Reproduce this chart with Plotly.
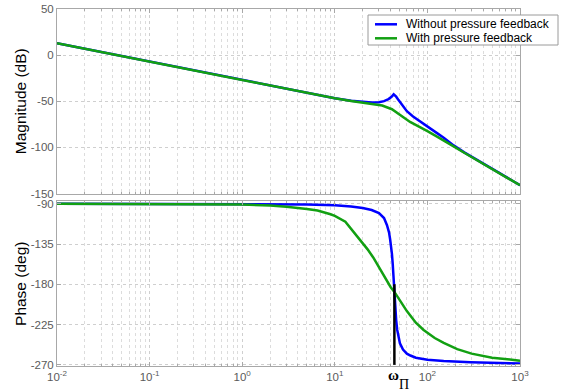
import math
import plotly.graph_objects as go

# ---------------- data ----------------
freq_mag_blue = [0.01, 0.1, 1, 5, 10, 15, 20, 25, 30, 34, 38, 41, 43.2, 46, 49, 53, 60, 70, 84,
                 100, 127, 150, 192, 250, 350, 500, 700, 1000]
mag_blue = [13, -7, -27, -40.9, -46.6, -49.4, -50.8, -51.3, -51.0, -49.8, -47.6, -45.2, -42.5,
            -45.0, -49.0, -54.0, -60.8, -66.5, -72.2, -78.0, -84.5, -89.5, -97.8, -105.3,
            -114.0, -123.1, -131.9, -140.9]

freq_mag_green = [0.01, 0.1, 1, 5, 10, 15, 20, 25, 32.5, 41.4, 48, 55.5, 65, 84, 100, 127, 150,
                  192, 250, 350, 500, 700, 1000]
mag_green = [13, -7, -27, -41.0, -46.8, -49.6, -51.4, -52.8, -54.6, -58.6, -62.8, -67.6, -72.4,
             -78.0, -82.3, -88.2, -92.2, -98.8, -105.8, -114.4, -123.4, -132.1, -141.0]

freq_phase_blue = [0.01, 1, 5, 10, 15, 20, 25, 30, 34, 36.6, 38.5, 39.6, 40.6, 41.4, 42.2, 43,
                   43.8, 44.8, 46, 47.2, 48.5, 50.5, 54.5, 60, 65.5, 75, 100, 150, 292, 500, 1000]
phase_blue = [-90, -90.1, -90.8, -91.8, -93, -94.8, -97, -100.5, -106, -114, -122, -130, -138,
              -146, -157, -172, -188, -205, -220, -231, -239, -246, -253, -257.5, -259.6, -262,
              -264.3, -265.8, -267, -267.8, -268.5]

freq_phase_green = [0.01, 1, 2, 3, 5, 6.5, 9, 10, 13, 16.2, 19, 22.6, 26, 31.5, 36, 40, 44, 50,
                    60, 75, 91, 120, 150, 210, 300, 500, 700, 1000]
phase_green = [-90, -90.8, -92, -93.3, -95.8, -97.6, -101.8, -103.5, -110, -122, -131, -141, -150,
               -165, -175, -183, -188.5, -197, -210, -223, -231, -240, -245.5, -252.5, -257.5,
               -262, -264, -265.3]

omega_pi = 44
marker_phase = [-270, -180]

series_names = ["Without pressure feedback", "With pressure feedback"]

x_tickvals = [0.01, 0.1, 1, 10, 100, 1000]
x_ticktext = ["10<sup>-2</sup>", "10<sup>-1</sup>", "10<sup>0</sup>", "10<sup>1</sup>",
              "10<sup>2</sup>", "10<sup>3</sup>"]
mag_ticks = [-150, -100, -50, 0, 50]
phase_ticks = [-270, -225, -180, -135, -90]

# ---------------- figure ----------------
BLUE = "#0000ff"
GREEN = "#12a012"
AXC = "#a8a8a8"
GRIDC = "#cfcfcf"
TICKC = "#5a5a5a"
FONT = "Arial, Liberation Sans, sans-serif"
SERIF = "Liberation Serif, Times New Roman, serif"

fig = go.Figure()
fig.add_trace(go.Scatter(x=freq_mag_blue, y=mag_blue, mode="lines", xaxis="x", yaxis="y",
                         line=dict(color=BLUE, width=2.5), name=series_names[0]))
fig.add_trace(go.Scatter(x=freq_mag_green, y=mag_green, mode="lines", xaxis="x", yaxis="y",
                         line=dict(color=GREEN, width=2.5), name=series_names[1]))
fig.add_trace(go.Scatter(x=freq_phase_blue, y=phase_blue, mode="lines", xaxis="x2", yaxis="y2",
                         line=dict(color=BLUE, width=2.5), name=series_names[0]))
fig.add_trace(go.Scatter(x=freq_phase_green, y=phase_green, mode="lines", xaxis="x2", yaxis="y2",
                         line=dict(color=GREEN, width=2.5), name=series_names[1]))
fig.add_trace(go.Scatter(x=[omega_pi, omega_pi], y=marker_phase, mode="lines", xaxis="x2",
                         yaxis="y2", line=dict(color="black", width=2.5), name="omega_pi"))

minor_vals = [m * 10 ** e for e in range(-2, 3) for m in range(2, 10)]

def xaxis_common(show_labels):
    return dict(type="log", range=[-2, 3], showline=True, linecolor=AXC, linewidth=1,
                mirror="allticks", ticks="inside", ticklen=4, tickcolor=AXC,
                showgrid=True, gridcolor=GRIDC, griddash="dot", gridwidth=1, zeroline=False,
                tickmode="array", tickvals=x_tickvals, ticktext=x_ticktext,
                showticklabels=show_labels,
                tickfont=dict(family=FONT, size=11.5, color=TICKC),
                minor=dict(tickmode="array", tickvals=minor_vals, ticks="inside", ticklen=2,
                           tickcolor=AXC, showgrid=True, gridcolor="#dcdcdc",
                           griddash="dot", gridwidth=1))

def yaxis_common(rng, ticks, title, dom):
    return dict(range=rng, domain=dom, showline=True, linecolor=AXC, linewidth=1,
                mirror="allticks", ticks="inside", ticklen=4, tickcolor=AXC,
                showgrid=True, gridcolor=GRIDC, griddash="dot", gridwidth=1, zeroline=False,
                tickmode="array", tickvals=ticks, ticktext=[str(t) for t in ticks],
                tickfont=dict(family=FONT, size=11.5, color=TICKC),
                title=dict(text=title, font=dict(family=FONT, size=15.5, color="black"),
                           standoff=0))

# ---- legend drawn as a box with line samples and text (pixel layout of the reference) ----
PX_L, PX_W, PX_B, PX_H = 57, 463, 366, 357
def px(xp):
    return (xp - PX_L) / PX_W
def py(yp):
    return (PX_B - yp) / PX_H

shapes = [dict(type="rect", xref="paper", yref="paper", x0=px(368), x1=px(558), y0=py(45),
               y1=py(15), fillcolor="white", line=dict(color="#9a9a9a", width=1), layer="above")]
annotations = []
for i, (name, col) in enumerate(zip(series_names, [BLUE, GREEN])):
    yy = py(24.3 + 14 * i)
    shapes.append(dict(type="line", xref="paper", yref="paper", x0=px(375), x1=px(397),
                       y0=yy, y1=yy, line=dict(color=col, width=2.5), layer="above"))
    annotations.append(dict(text=name, xref="paper", yref="paper", x=px(404), y=yy,
                            xanchor="left", yanchor="middle", showarrow=False,
                            font=dict(family=FONT, size=12, color="black")))

annotations.append(dict(text="<b>ω</b>", xref="x2", yref="paper",
                        x=math.log10(omega_pi) - 0.009, y=py(375), showarrow=False,
                        xanchor="center", yanchor="middle",
                        font=dict(family=SERIF, size=15, color="black")))
annotations.append(dict(text="Π", xref="x2", yref="paper",
                        x=math.log10(omega_pi) + 0.104, y=py(384), showarrow=False,
                        xanchor="center", yanchor="middle",
                        font=dict(family=SERIF, size=14, color="black")))

fig.update_layout(
    width=573, height=392,
    paper_bgcolor="white", plot_bgcolor="white",
    margin=dict(l=57, r=53, t=9, b=26, autoexpand=False),
    xaxis=dict(anchor="y", **xaxis_common(False)),
    xaxis2=dict(anchor="y2", **xaxis_common(True)),
    yaxis=dict(anchor="x", **yaxis_common([-150, 50], mag_ticks, "Magnitude (dB)", [0.483, 1])),
    yaxis2=dict(anchor="x2", **yaxis_common([-271.3, -87.5], phase_ticks, "Phase (deg)",
                                            [0, 0.4608])),
    showlegend=False,
    shapes=shapes,
    annotations=annotations,
)

fig.write_html("out.html", config={"displayModeBar": False},
               post_script="document.body.style.margin='0';")
